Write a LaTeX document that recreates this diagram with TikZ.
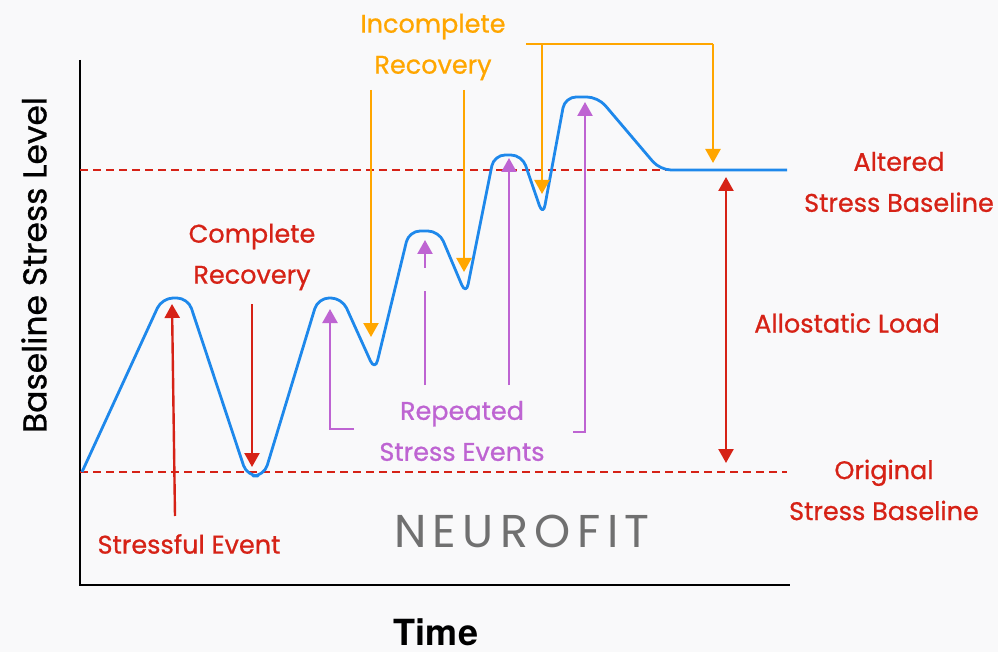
\documentclass[tikz,border=0pt]{standalone}
\usepackage{fontspec}
\setmainfont{Poppins}
\newfontfamily\lblfont[FakeBold=0.8]{Poppins}
\newfontfamily\heros{TeX Gyre Heros}
\newfontfamily\neuro[LetterSpace=14]{Poppins}
\usetikzlibrary{arrows.meta}
\definecolor{bg}{RGB}{249,249,250}
\definecolor{curveblue}{RGB}{30,136,235}
\definecolor{lblred}{RGB}{214,34,22}
\definecolor{lblorange}{RGB}{255,166,0}
\definecolor{lblpurple}{RGB}{190,100,210}
\definecolor{logogray}{RGB}{112,112,112}
\tikzset{
  lbl/.style={inner sep=0pt, align=center, font=\lblfont\fontsize{25.5}{41}\selectfont},
  redarrow/.style={draw=lblred, line width=2.4pt, -{Triangle[width=15pt,length=14pt]}},
  orangearrow/.style={draw=lblorange, line width=2.4pt, -{Triangle[width=15pt,length=14pt]}},
  purplearrow/.style={draw=lblpurple, line width=2.4pt, -{Triangle[width=15pt,length=14pt]}},
  baseline/.style={draw=lblred, line width=1.4pt, dash pattern=on 8pt off 5pt},
  axisline/.style={draw=black, line width=2.6pt},
}
\begin{document}
\begin{tikzpicture}[x=1pt,y=-1pt]
\fill[bg] (0,0) rectangle (998,652);
\useasboundingbox (0,0) rectangle (998,652);

% axes
\coordinate (ytop) at (80,60);
\coordinate (orig) at (80,585);
\coordinate (xend) at (790,585);
\draw[axisline] (ytop) -- (orig) -- (xend);
\node[rotate=90, inner sep=0pt, font=\lblfont\fontsize{33}{40}\selectfont] (ylab) at (34,265) {Baseline Stress Level};
\node[inner sep=0pt, font=\heros\bfseries\fontsize{36}{42}\selectfont] (xlab) at (436,632) {Time};

% baselines
\coordinate (ob1) at (80,472); \coordinate (ob2) at (787,472);
\coordinate (ab1) at (80,170); \coordinate (ab2) at (787,170);
\draw[baseline] (ob1) -- (ob2);
\draw[baseline] (ab1) -- (ab2);

% logo
\node[inner sep=0pt, text=logogray, font=\neuro\fontsize{46}{52}\selectfont] (logo) at (522,531) {NEUROFIT};

% stress curve
\draw[curveblue, line width=2.8pt, rounded corners=11pt, line join=round]
 (82,472) -- (162,298) -- (188,298) -- (247,476) -- (264,476) -- (318,298) -- (342,298)
 -- (375,371) -- (409,231) -- (439,231) -- (466,295) -- (494,155) -- (522,155)
 -- (543,216) -- (565,97) -- (598,97) -- (660,170) -- (787,170);

% Stressful event
\node[lbl, text=lblred] (se) at (189,544) {Stressful Event};
\coordinate (se1) at (175,516); \coordinate (se2) at (172,304);
\draw[redarrow] (se1) -- (se2);

% Complete recovery
\node[lbl, text=lblred] (cr) at (252,257) {Complete\\Recovery};
\coordinate (cr1) at (252,304); \coordinate (cr2) at (252,467);
\draw[redarrow] (cr1) -- (cr2);

% Incomplete recovery
\node[lbl, text=lblorange] (ir) at (433,47) {Incomplete\\Recovery};
\coordinate (ia1) at (371,90); \coordinate (ia2) at (371,337);
\coordinate (ib1) at (464,90); \coordinate (ib2) at (464,272);
\draw[orangearrow] (ia1) -- (ia2);
\draw[orangearrow] (ib1) -- (ib2);
\coordinate (ic0) at (526,44); \coordinate (ic1) at (542,44); \coordinate (ic2) at (542,194);
\coordinate (id1) at (713,44); \coordinate (id2) at (713,163);
\draw[draw=lblorange, line width=2.4pt] (ic0) -- (id1);
\draw[orangearrow] (ic1) -- (ic2);
\draw[orangearrow] (id1) -- (id2);

% Repeated stress events
\node[lbl, text=lblpurple] (rs) at (462,431) {Repeated\\Stress Events};
\coordinate (pa0) at (354,429); \coordinate (pa1) at (330,429); \coordinate (pa2) at (330,309);
\draw[purplearrow] (pa0) -- (pa1) -- (pa2);
\coordinate (pb1) at (425,385); \coordinate (pb2) at (425,291);
\coordinate (pb3) at (425,268); \coordinate (pb4) at (425,240);
\draw[draw=lblpurple, line width=2.4pt] (pb1) -- (pb2);
\draw[purplearrow] (pb3) -- (pb4);
\coordinate (pc1) at (509,385); \coordinate (pc2) at (509,158);
\draw[purplearrow] (pc1) -- (pc2);
\coordinate (pd0) at (573,432); \coordinate (pd1) at (585,432); \coordinate (pd2) at (585,102);
\draw[purplearrow] (pd0) -- (pd1) -- (pd2);

% Allostatic load
\coordinate (al1) at (726,463); \coordinate (al2) at (726,177);
\draw[draw=lblred, line width=2.4pt, {Triangle[width=15pt,length=14pt]}-{Triangle[width=15pt,length=14pt]}] (al1) -- (al2);
\node[lbl, text=lblred] (al) at (847,323) {Allostatic Load};
\node[lbl, text=lblred] (asb) at (899,182) {Altered\\Stress Baseline};
\node[lbl, text=lblred] (osb) at (884,490) {Original\\Stress Baseline};
\end{tikzpicture}
\end{document}
